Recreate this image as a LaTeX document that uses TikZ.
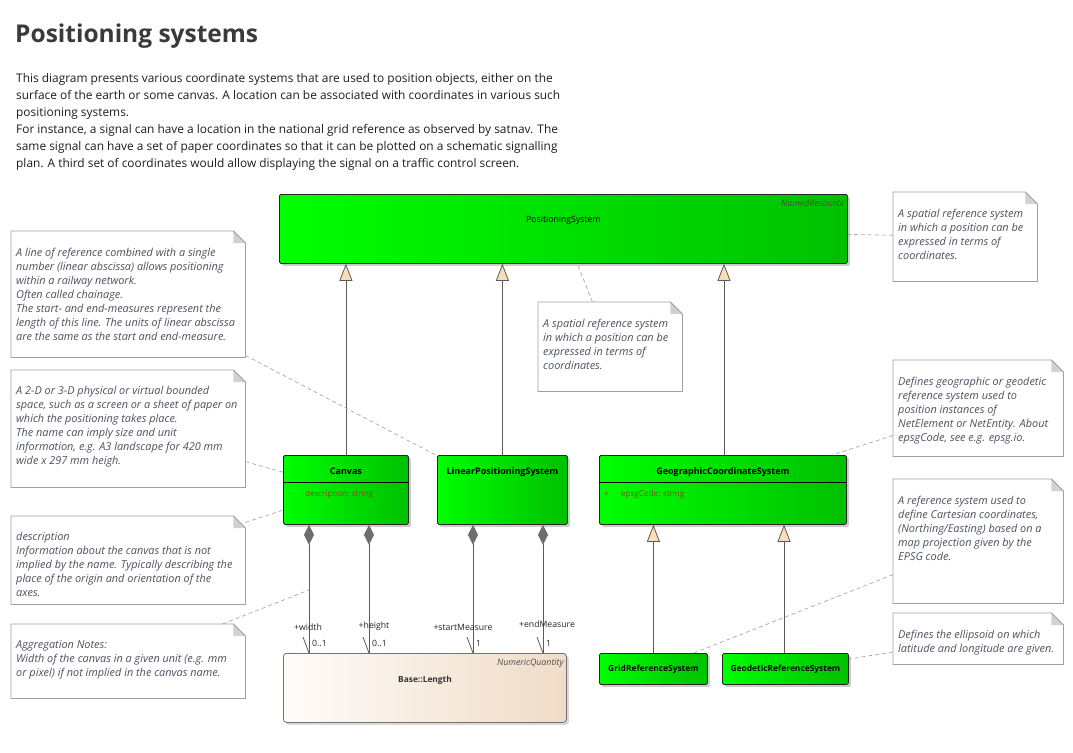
\documentclass[tikz,border=0pt]{standalone}
\usepackage{fontspec}
\setmainfont{Open Sans}
\usetikzlibrary{arrows.meta,shadows,calc}
\definecolor{gA}{HTML}{00FF00}
\definecolor{gB}{HTML}{00C000}
\definecolor{notetxt}{HTML}{4D5160}
\definecolor{notebd}{HTML}{A0A0A0}
\definecolor{conn}{HTML}{5A5A5A}
\definecolor{dgray}{HTML}{6E6E6E}
\definecolor{dashc}{HTML}{A8A8A8}
\definecolor{peach}{HTML}{FBDDB8}
\definecolor{lenA}{HTML}{FFFCFA}
\definecolor{lenB}{HTML}{EFDCC8}
\definecolor{attr}{HTML}{7F4F1F}
\definecolor{titlec}{HTML}{3A3A3A}
\definecolor{parac}{HTML}{1E1E1E}
\newcommand\mynote[6]{%
  \node[notebox, minimum width=#4, minimum height=#5] (#1) at (#2,#3) {};
  \draw[notebd, line width=0.7pt] (#1.north west) -- ($(#1.north east)+(-12,0)$) -- ($(#1.north east)+(0,12)$) -- (#1.south east) -- (#1.south west) -- cycle;
  \fill[black!18] ($(#1.north east)+(-12,0)$) -- ($(#1.north east)+(0,12)$) -- ($(#1.north east)+(-12,12)$) -- cycle;
  \draw[notebd, line width=0.7pt] ($(#1.north east)+(-12,0)$) -- ($(#1.north east)+(0,12)$);
  \node[notetext] (#1-t) at ($(#1.north west)+(5,16.5)$) {#6};
}
\begin{document}
\begin{tikzpicture}[x=1pt,y=-1pt,
  cls/.style={draw=black!85, line width=0.8pt, left color=gA, right color=gB, rounded corners=1.5pt,
    drop shadow={shadow xshift=2.5pt,shadow yshift=-2.5pt,fill=black,opacity=0.2}, anchor=north west, inner sep=0},
  lenbox/.style={draw=black!55, line width=0.8pt, left color=lenA, right color=lenB, rounded corners=3pt,
    drop shadow={shadow xshift=2.5pt,shadow yshift=-2.5pt,fill=black,opacity=0.15}, anchor=north west, inner sep=0},
  notebox/.style={draw=none, anchor=north west, inner sep=0},
  notetext/.style={anchor=north west, align=left, inner sep=0, text=notetxt,
    font=\fontsize{10.9}{14}\selectfont\itshape, execute at begin node=\rule{0pt}{10pt}},
  lbl/.style={font=\fontsize{9}{10}\selectfont\bfseries, inner sep=0, anchor=base},
  lbls/.style={font=\fontsize{8.4}{10}\selectfont\bfseries, inner sep=0, anchor=base},
  attrtxt/.style={font=\fontsize{8}{9}\selectfont, text=attr, inner sep=0, anchor=base west},
  stereo/.style={font=\fontsize{8.8}{10}\selectfont\itshape, text=black!70, inner sep=0, anchor=base east},
  ml/.style={font=\fontsize{8.7}{10}\selectfont, text=black!85, inner sep=0, anchor=base},
  mr/.style={font=\fontsize{8.7}{10}\selectfont, text=black!85, inner sep=0, anchor=base west},
  inh/.style={draw=conn, line width=0.8pt, -{Triangle[length=17pt,width=13pt,fill=peach]}},
  agg/.style={draw=conn, line width=0.8pt, {Diamond[length=20pt,width=10pt,fill=dgray,color=dgray]}-},
  dsh/.style={draw=dashc, line width=0.7pt, dash pattern=on 4pt off 3pt},
]
\fill[white] (0,0) rectangle (1073,752);
\useasboundingbox (0,0) rectangle (1073,752);

% title and intro
\node[anchor=base west, inner sep=0, text=titlec, font=\fontsize{24.5}{28}\selectfont\bfseries] (title) at (15,43) {Positioning systems};
\node[anchor=north west, inner sep=0, align=left, text=parac, font=\fontsize{11.9}{17}\selectfont,
  execute at begin node=\rule{0pt}{12pt}] (intro) at (16,73.5) {%
This diagram presents various coordinate systems that are used to position objects, either on the\\
surface of the earth or some canvas. A location can be associated with coordinates in various such\\
positioning systems.\\
For instance, a signal can have a location in the national grid reference as observed by satnav. The\\
same signal can have a set of paper coordinates so that it can be plotted on a schematic signalling\\
plan. A third set of coordinates would allow displaying the signal on a traffic control screen.};

% classes
\node[cls, minimum width=568, minimum height=69] (ps) at (279,194) {};
\node[font=\fontsize{8.7}{10}\selectfont, inner sep=0, anchor=base] (pst) at ($(ps.north)+(0,28.5)$) {PositioningSystem};
\node[stereo] (pss) at ($(ps.north east)+(-3,12)$) {NamedResource};

\node[cls, minimum width=125, minimum height=69] (canvas) at (283,455) {};
\node[lbl] (canvast) at ($(canvas.north)+(0,19)$) {Canvas};
\draw[line width=0.8pt] ($(canvas.north west)+(0,27)$) -- ($(canvas.north east)+(0,27)$);
\node[attrtxt] (ca1) at ($(canvas.north west)+(6,41)$) {-};
\node[attrtxt] (ca2) at ($(canvas.north west)+(22,41)$) {description: string};

\node[cls, minimum width=130, minimum height=69] (lin) at (437,455) {};
\node[lbl] (lint) at ($(lin.north)+(0,19)$) {LinearPositioningSystem};

\node[cls, minimum width=247, minimum height=69] (geo) at (599,455) {};
\node[lbl] (geot) at ($(geo.north)+(0,19)$) {GeographicCoordinateSystem};
\draw[line width=0.8pt] ($(geo.north west)+(0,27)$) -- ($(geo.north east)+(0,27)$);
\node[attrtxt] (ga1) at ($(geo.north west)+(5,41)$) {+};
\node[attrtxt] (ga2) at ($(geo.north west)+(22,41)$) {epsgCode: string};

\node[cls, minimum width=108, minimum height=31] (grid) at (599,653) {};
\node[lbls] (gridt) at ($(grid.center)+(0,3)$) {GridReferenceSystem};
\node[cls, minimum width=126, minimum height=31] (geod) at (722,653) {};
\node[lbls] (geodt) at ($(geod.center)+(0,3)$) {GeodeticReferenceSystem};

\node[lenbox, minimum width=283, minimum height=69] (len) at (283,653) {};
\node[font=\fontsize{8.4}{10}\selectfont\bfseries, text=black!80, inner sep=0, anchor=base] (lent) at (425,682) {Base::Length};
\node[stereo] (lens) at ($(len.north east)+(-3,12)$) {NumericQuantity};

% generalizations
\draw[inh] (canvas.north) -- (canvas.north |- ps.south);
\draw[inh] (lin.north) -- (lin.north |- ps.south);
\draw[inh] (geo.north -| 724,0) -- (ps.south -| 724,0);
\draw[inh] (grid.north) -- (grid.north |- geo.south);
\draw[inh] (geod.north -| 784,0) -- (geo.south -| 784,0);

% aggregations
\coordinate (a1) at ($(canvas.south west)+(26,0)$);
\coordinate (a2) at ($(canvas.south west)+(86,0)$);
\coordinate (a3) at ($(lin.south west)+(36,0)$);
\coordinate (a4) at ($(lin.south west)+(106,0)$);
\foreach \a in {a1,a2,a3,a4}{
  \draw[agg] (\a) -- (\a |- len.north);
  \draw[draw=conn, line width=0.8pt] (\a |- len.north) -- ++(-6,-16);
}
\node[ml] (l1) at (308,630) {+width};
\node[mr] (m1) at (312,646) {0..1};
\node[ml] (l2) at (374,628) {+height};
\node[mr] (m2) at (372,646) {0..1};
\node[ml] (l3) at (463,630) {+startMeasure};
\node[mr] (m3) at (476,646) {1};
\node[ml] (l4) at (547,627) {+endMeasure};
\node[mr] (m4) at (546,646) {1};
\coordinate (wmid) at (309,590);

% notes
\mynote{n1}{11}{231}{234}{126}{A line of reference combined with a single\\number (linear abscissa) allows positioning\\within a railway network.\\Often called chainage.\\The start- and end-measures represent the\\length of this line. The units of linear abscissa\\are the same as the start and end-measure.}
\mynote{n2}{11}{370}{234}{117}{A 2-D or 3-D physical or virtual bounded\\space, such as a screen or a sheet of paper on\\which the positioning takes place.\\The name can imply size and unit\\information, e.g. A3 landscape for 420 mm\\wide x 297 mm heigh.}
\mynote{n3}{11}{516}{234}{88}{description\\Information about the canvas that is not\\implied by the name. Typically describing the\\place of the origin and orientation of the\\axes.}
\mynote{n4}{11}{624}{234}{74}{Aggregation Notes:\\Width of the canvas in a given unit (e.g. mm\\or pixel) if not implied in the canvas name.}
\mynote{n5}{538}{302}{144}{89}{A spatial reference system\\in which a position can be\\expressed in terms of\\coordinates.}
\mynote{n6}{893}{192}{144}{89}{A spatial reference system\\in which a position can be\\expressed in terms of\\coordinates.}
\mynote{n7}{893}{360}{170}{96}{Defines geographic or geodetic\\reference system used to\\position instances of\\NetElement or NetEntity. About\\epsgCode, see e.g. epsg.io.}
\mynote{n8}{893}{479}{170}{124}{A reference system used to\\define Cartesian coordinates,\\(Northing/Easting) based on a\\map projection given by the\\EPSG code.}
\mynote{n9}{893}{613}{170}{51}{Defines the ellipsoid on which\\latitude and longitude are given.}

% note links
\draw[dsh] (n1) -- (lin);
\draw[dsh] (n2) -- (canvas);
\draw[dsh] (n3) -- (canvas);
\draw[dsh] (n4) -- (wmid);
\draw[dsh] (n5) -- (ps);
\draw[dsh] (n6) -- (ps);
\draw[dsh] (n7) -- (geo);
\draw[dsh] (n8) -- (grid);
\draw[dsh] (n9) -- (geod);
\end{tikzpicture}
\end{document}
